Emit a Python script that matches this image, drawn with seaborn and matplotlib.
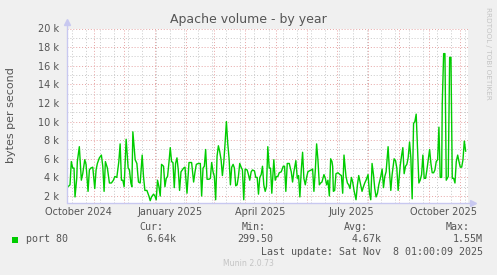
import numpy as np
import pandas as pd
import matplotlib
matplotlib.use("Agg")
import matplotlib.pyplot as plt
import matplotlib.dates as mdates
from matplotlib.ticker import FixedLocator
import seaborn as sns

# ---------------- data ----------------
start_date = "2024-10-05"
end_date = "2025-11-09"
day_offsets = [
    0.0, 3.0, 4.3, 5.7, 7.0, 8.0, 9.7, 10.3, 12.3, 13.7, 14.3, 15.7, 17.7, 19.0, 21.0, 22.3,
    23.7, 25.7, 27.7, 29.0, 30.3, 32.3, 34.3, 35.7, 37.0, 38.3, 40.3, 42.3, 44.3, 46.3, 47.7,
    49.7, 51.7, 53.0, 54.3, 55.7, 57.0, 59.0, 61.0, 62.3, 63.7, 64.7, 65.7, 68.0, 69.7, 71.3,
    73.0, 75.0, 76.3, 77.7, 79.7, 81.7, 83.0, 84.3, 86.3, 87.7, 89.0, 90.3, 91.7, 93.0, 94.3,
    96.3, 97.7, 99.0, 100.3, 101.7, 103.0, 104.3, 105.7, 107.0, 108.3, 109.7, 111.0, 112.3,
    113.7, 115.0, 116.3, 117.7, 119.7, 121.7, 124.3, 126.3, 127.7, 129.0, 131.0, 133.0, 134.3,
    135.7, 137.0, 138.3, 139.7, 141.7, 143.0, 144.3, 145.7, 147.0, 148.3, 149.7, 151.0, 152.3,
    153.7, 155.0, 156.3, 157.7, 159.0, 160.3, 161.7, 163.0, 164.3, 165.7, 167.0, 168.3, 169.7,
    171.0, 172.3, 173.7, 175.0, 176.3, 177.7, 179.7, 181.0, 182.3, 183.7, 185.0, 187.0, 188.3,
    189.7, 191.0, 192.3, 193.7, 195.0, 196.3, 197.7, 199.0, 200.3, 201.7, 203.0, 204.3, 206.3,
    207.7, 209.0, 210.3, 211.7, 213.7, 215.7, 217.0, 218.3, 219.7, 221.7, 223.7, 225.0, 226.3,
    228.3, 229.7, 231.0, 232.3, 233.7, 235.0, 236.3, 237.7, 239.0, 240.3, 241.7, 243.7, 245.0,
    246.3, 247.7, 249.0, 250.3, 251.7, 253.0, 254.3, 256.3, 257.7, 259.0, 260.3, 261.7, 263.0,
    264.3, 265.0, 265.7, 267.0, 268.3, 270.3, 272.3, 273.7, 275.0, 276.3, 278.3, 279.7, 281.0,
    282.3, 283.7, 285.0, 286.3, 288.3, 289.7, 291.0, 293.0, 294.3, 295.7, 297.0, 298.3, 300.3,
    301.7, 303.0, 304.3, 305.7, 307.0, 308.3, 309.7, 311.0, 313.0, 314.3, 315.7, 317.0, 318.3,
    320.3, 321.7, 323.0, 324.3, 326.3, 327.7, 329.0, 330.3, 332.3, 333.7, 335.0, 336.3, 337.7,
    339.0, 340.3, 341.7, 343.0, 344.3, 345.7, 347.0, 348.3, 351.0, 352.3, 353.7, 355.0, 356.3,
    357.7, 359.0, 360.3, 361.7, 363.0, 364.3, 365.7, 367.0, 368.3, 369.7, 371.0, 372.3, 373.7,
    374.3, 375.7, 377.0, 378.3, 380.3, 381.7, 383.0, 384.3, 385.7, 387.0, 388.3, 389.7, 391.0,
    392.3, 393.7, 395.0, 396.3, 397.7,
]
bytes_k = [
    2.9, 3.2, 5.7, 5.0, 5.0, 1.9, 3.9, 5.7, 7.3, 4.8, 3.7, 4.4, 5.9, 5.4, 2.5, 4.8,
    5.0, 5.1, 2.8, 4.8, 5.5, 6.1, 6.4, 5.2, 2.5, 5.7, 5.0, 3.4, 3.4, 3.7, 4.1,
    4.0, 5.7, 7.6, 3.7, 3.7, 3.0, 8.1, 5.0, 4.8, 3.4, 3.0, 8.9, 5.9, 5.5, 3.5,
    3.4, 6.4, 4.1, 2.6, 2.6, 2.0, 1.5, 1.9, 2.2, 2.0, 1.6, 3.7, 3.0, 2.0, 5.4,
    5.2, 3.0, 3.9, 4.1, 5.6, 7.2, 5.7, 5.6, 2.9, 5.5, 6.1, 4.8, 2.6,
    4.6, 4.8, 5.0, 5.1, 2.3, 5.6, 5.6, 3.5, 4.6, 5.4, 5.5, 5.5, 2.0,
    5.0, 5.2, 7.0, 3.8, 3.8, 3.9, 5.6, 4.6, 4.1, 1.6, 6.3, 7.4, 6.8,
    5.9, 4.2, 5.5, 7.7, 10.0, 7.7, 6.0, 3.2, 5.1, 5.4, 5.0, 3.1, 3.2,
    4.1, 5.5, 5.1, 4.8, 1.6, 4.9, 4.8, 4.3, 3.7, 4.6, 4.8, 4.7, 4.0,
    4.0, 2.2, 4.0, 4.3, 5.2, 3.2, 2.5, 3.0, 7.3, 5.0, 5.0, 2.3, 5.9,
    3.7, 4.1, 4.1, 4.5, 4.6, 5.2, 5.2, 2.5, 5.5, 5.5, 4.6, 3.5, 4.6,
    5.8, 3.9, 4.2, 1.9, 4.8, 6.7, 3.9, 3.2, 4.0, 4.6, 4.7, 4.8, 4.9,
    2.5, 4.8, 7.6, 5.9, 3.2, 3.4, 3.5, 4.3, 3.9, 3.2, 3.7, 2.0, 6.0,
    5.7, 5.2, 2.5, 2.6, 4.4, 4.5, 4.3, 4.2, 2.3, 6.4, 4.1, 3.4, 3.2,
    2.8, 4.0, 3.5, 2.6, 1.6, 3.2, 4.2, 3.2, 2.5, 3.0, 3.4, 3.7, 4.3,
    2.3, 1.6, 5.5, 4.3, 2.8, 1.9, 2.3, 3.2, 4.1, 4.9, 2.9, 4.1, 4.6,
    7.3, 4.6, 2.6, 4.3, 6.0, 5.8, 5.0, 2.6, 5.2, 6.3, 7.2, 4.4, 5.2,
    5.4, 6.1, 7.8, 6.1, 1.7, 9.8, 10.0, 10.8, 3.4, 3.7, 4.3, 6.4, 3.9,
    3.9, 4.8, 5.9, 7.0, 5.5, 4.5, 4.5, 4.8, 5.7, 5.9, 9.4, 4.0, 4.0,
    11.8, 17.3, 17.3, 3.7, 4.1, 16.9, 16.9, 3.9, 3.9, 3.4, 5.7, 6.4, 5.7,
    5.1, 5.1, 5.9, 7.9, 6.8,
]
y_ticks_k = [2, 4, 6, 8, 10, 12, 14, 16, 18, 20]
x_label_months = ["2024-10", "2025-01", "2025-04", "2025-07", "2025-10"]
x_tick_labels = ["October 2024", "January 2025", "April 2025", "July 2025", "October 2025"]
title = "Apache volume - by year"
y_label = "bytes per second"
series_name = "port 80"
stat_names = ["Cur:", "Min:", "Avg:", "Max:"]
stat_values = ["6.64k", "299.50", "4.67k", "1.55M"]
last_update = "Last update: Sat Nov  8 01:00:09 2025"
side_text = "RRDTOOL / TOBI OETIKER"
footer = "Munin 2.0.73"

# ---------------- style ----------------
sns.set_theme(style="white")
plt.rcParams["font.family"] = ["DejaVu Sans"]

W, H = 497, 275
BG = "#f0f0f0"
TXT = "#555555"
GREEN = "#00cc00"
MAJ = "#e6a3a3"
MIN = "#c8c8c8"
AXC = "#c8c8f0"

fig = plt.figure(figsize=(W / 100, H / 100), dpi=100, facecolor=BG)
L, R, T, B = 67, 468, 28.5, 203
ax = fig.add_axes([L / W, 1 - B / H, (R - L) / W, (B - T) / H])
ax.set_facecolor("white")

t0 = pd.Timestamp(start_date)
df = pd.DataFrame({
    "date": t0 + pd.to_timedelta(day_offsets, unit="D"),
    "value": bytes_k,
})

ax.set_xlim(t0, pd.Timestamp(end_date))
ax.set_ylim(1.25, 20)

# grid
dot = (0, (1, 2))
for yv in np.arange(3, 20, 2):
    ax.axhline(yv, color=MIN, lw=0.7, ls=dot, zorder=0)
for yv in y_ticks_k:
    ax.axhline(yv, color=MAJ, lw=0.7, ls=dot, zorder=0)
for d in pd.date_range("2024-10-10", end_date, freq="14D"):
    ax.axvline(d, color=MIN, lw=0.7, ls=dot, zorder=0)
for d in pd.date_range(t0, end_date, freq="MS"):
    ax.axvline(d, color=MAJ, lw=0.7, ls=dot, zorder=0)

sns.lineplot(data=df, x="date", y="value", ax=ax, color=GREEN, lw=1.0, zorder=3)

# ticks
mid_month = [pd.Timestamp(m + "-16") for m in x_label_months]
ax.xaxis.set_major_locator(FixedLocator(mdates.date2num(mid_month)))
ax.set_xticklabels(x_tick_labels)
ax.set_yticks(y_ticks_k)
ax.set_yticklabels([f"{v} k" for v in y_ticks_k])
ax.tick_params(axis="x", length=0, pad=3, labelsize=7, colors=TXT)
ax.tick_params(axis="y", length=0, pad=5.5, labelsize=7, colors=TXT)
ax.set_xlabel("")
ax.set_ylabel("")
ax.grid(False)
for s in ax.spines.values():
    s.set_visible(False)

# axes lines with arrows
ax.plot([0, 0], [0, 1.035], transform=ax.transAxes, color=AXC, lw=1, clip_on=False, zorder=4)
ax.plot([0, 1.012], [0, 0], transform=ax.transAxes, color=AXC, lw=1, clip_on=False, zorder=4)
ax.plot([0], [1.035], transform=ax.transAxes, marker="^", ms=4, color=AXC, clip_on=False, zorder=4)
ax.plot([1.012], [0], transform=ax.transAxes, marker=">", ms=4, color=AXC, clip_on=False, zorder=4)

def ftext(x, y, s, **kw):
    fig.text(x / W, 1 - y / H, s, **kw)

ftext(248, 19, title, ha="center", va="center", fontsize=9, color=TXT)
ftext(11, 115, y_label, ha="center", va="center", rotation=90, fontsize=8, color=TXT)
ftext(488, 53, side_text, ha="center", va="center", rotation=270, fontsize=5.2, color="#c4c4c4")

mono = dict(family="DejaVu Sans Mono", fontsize=7.2, color=TXT, va="center")
fig.patches.append(plt.Rectangle((12 / W, 1 - 242.5 / H), 6 / W, 6 / H,
                                 transform=fig.transFigure, facecolor=GREEN, edgecolor="none"))
ftext(26, 239.5, series_name, ha="left", **mono)
name_right = [163, 266, 368, 470]
val_right = [176, 273, 382, 483]
for n, v, nr, vr in zip(stat_names, stat_values, name_right, val_right):
    ftext(nr, 227.5, n, ha="right", **mono)
    ftext(vr, 239.5, v, ha="right", **mono)
ftext(483, 251.7, last_update, ha="right", **mono)
ftext(248, 264, footer, ha="center", va="center", fontsize=5.6, color="#c4c4c4")

fig.savefig("out.png", dpi=100, facecolor=BG)
